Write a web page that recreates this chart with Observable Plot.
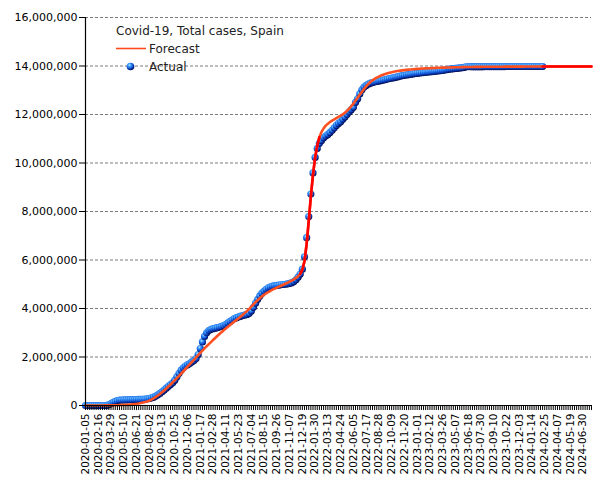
<!DOCTYPE html>
<html><head><meta charset="utf-8">
<script src="https://cdn.jsdelivr.net/npm/d3@7"></script>
<script src="https://cdn.jsdelivr.net/npm/@observablehq/plot@0.6"></script>
<style>body{margin:0;background:#fff}</style>
</head><body><div id="chart"></div>
<script>
const title = "Covid-19, Total cases, Spain";
const seriesNames = ["Forecast", "Actual"];
const startDate = "2020-01-05";      // first weekly observation
const weeksShown = 238;              // last week on the axis
const labelEvery = 6;                // label every 6th weekly tick
const yTicks = [0, 2e6, 4e6, 6e6, 8e6, 10e6, 12e6, 14e6, 16e6];

// Actual cumulative cases, weekly from 2020-01-05 (millions)
const actual = [
0,0,0,0,0,0,0,0,0.0001,0.0007,
0.0078,0.0288,0.0805,0.131,0.166,0.198,0.223,0.226,0.229,0.232,
0.236,0.239,0.241,0.244,0.246,0.249,0.251,0.254,0.261,0.273,
0.288,0.315,0.342,0.387,0.439,0.499,0.566,0.640,0.716,0.790,
0.862,0.937,1.046,1.185,1.328,1.458,1.556,1.628,1.685,1.730,
1.797,1.854,1.936,2.100,2.350,2.620,2.850,3.000,3.090,3.140,
3.170,3.190,3.210,3.235,3.260,3.299,3.347,3.407,3.468,3.524,
3.581,3.621,3.653,3.683,3.711,3.733,3.755,3.800,3.900,4.050,
4.220,4.380,4.520,4.630,4.720,4.790,4.850,4.890,4.920,4.940,
4.955,4.967,4.979,4.990,5.000,5.013,5.033,5.063,5.111,5.186,
5.292,5.421,5.620,6.133,6.922,7.790,8.720,9.590,10.230,10.600,
10.810,10.930,11.040,11.110,11.180,11.260,11.350,11.450,11.550,11.630,
11.700,11.800,11.900,12.000,12.100,12.200,12.300,12.500,12.650,12.850,
13.020,13.130,13.200,13.250,13.290,13.320,13.340,13.360,13.380,13.400,
13.420,13.440,13.460,13.480,13.500,13.520,13.540,13.560,13.580,13.600,
13.615,13.630,13.645,13.660,13.675,13.690,13.700,13.710,13.720,13.730,
13.740,13.750,13.760,13.770,13.780,13.790,13.800,13.810,13.820,13.830,
13.850,13.870,13.880,13.890,13.900,13.910,13.920,13.930,13.940,13.965,
13.970,13.971,13.972,13.972,13.973,13.973,13.974,13.974,13.975,13.975,
13.976,13.976,13.977,13.977,13.977,13.978,13.978,13.978,13.979,13.979,
13.979,13.979,13.980,13.980,13.980,13.980,13.980,13.980,13.980,13.980,
13.980,13.980,13.980,13.980,13.980,13.980
];

// Forecast curve, weekly from 2020-01-05 (millions)
const forecast = [
0.000,0.000,0.001,0.001,0.001,0.002,0.002,0.003,0.003,0.004,
0.004,0.005,0.006,0.008,0.010,0.012,0.015,0.018,0.022,0.027,
0.033,0.040,0.049,0.059,0.071,0.085,0.101,0.120,0.143,0.170,
0.200,0.240,0.290,0.350,0.410,0.475,0.545,0.620,0.700,0.780,
0.865,0.950,1.040,1.130,1.220,1.315,1.410,1.505,1.600,1.695,
1.790,1.885,1.980,2.075,2.170,2.265,2.355,2.445,2.530,2.615,
2.700,2.785,2.865,2.945,3.025,3.100,3.175,3.250,3.320,3.390,
3.460,3.530,3.600,3.670,3.745,3.820,3.900,3.985,4.075,4.170,
4.260,4.345,4.425,4.500,4.565,4.625,4.680,4.730,4.775,4.820,
4.860,4.900,4.940,4.980,5.020,5.060,5.105,5.150,5.200,5.260,
5.330,5.430,5.600,5.950,6.650,7.600,8.620,9.520,10.220,10.720,
11.060,11.280,11.430,11.540,11.620,11.690,11.750,11.800,11.850,11.900,
11.950,12.005,12.070,12.150,12.240,12.340,12.450,12.570,12.690,12.810,
12.930,13.050,13.160,13.260,13.340,13.410,13.470,13.520,13.565,13.605,
13.640,13.670,13.700,13.725,13.745,13.765,13.780,13.795,13.810,13.820,
13.830,13.840,13.850,13.858,13.866,13.873,13.880,13.886,13.892,13.897,
13.902,13.906,13.910,13.914,13.918,13.922,13.925,13.928,13.931,13.934,
13.937,13.940,13.942,13.944,13.946,13.948,13.950,13.952,13.954,13.956,
13.958,13.960,13.961,13.962,13.963,13.964,13.965,13.966,13.967,13.968,
13.969,13.970,13.970,13.971,13.971,13.972,13.972,13.973,13.973,13.974,
13.974,13.975,13.975,13.975,13.976,13.976,13.976,13.977,13.977,13.977,
13.978,13.978,13.978,13.978,13.979,13.979,13.979,13.979,13.979,13.980,
13.980,13.980,13.980,13.980,13.980,13.980,13.980,13.980,13.980,13.980,
13.980,13.980,13.980,13.980,13.980,13.980,13.980,13.980,13.980
];

// week ranges of the forecast drawn in pure red (steep rise, projection)
const redRanges = [[101, 110], [actual.length - 1, forecast.length - 1]];

const t0 = new Date(startDate + "T00:00:00Z");
const week = i => new Date(t0.getTime() + i * 7 * 864e5);

const actualData = actual.map((v, i) => ({date: week(i), value: v * 1e6}));
const forecastData = forecast.map((v, i) => ({i, date: week(i), value: v * 1e6}));
const weekTicks = d3.range(0, weeksShown + 1).map(week);
const fmtDate = d3.utcFormat("%Y-%m-%d");

const chart = Plot.plot({
  width: 605,
  height: 480,
  marginLeft: 85,
  marginRight: 14,
  marginTop: 17,
  marginBottom: 75,
  style: {fontFamily: "'DejaVu Sans', sans-serif", fontSize: "11px", color: "#000", background: "#fff", overflow: "visible"},
  x: {type: "utc", domain: [week(0), week(weeksShown)], label: null},
  y: {domain: [0, 16e6], label: null},
  marks: [
    Plot.gridY(yTicks.slice(1), {stroke: "#7a7a7a", strokeOpacity: 1, strokeDasharray: "3,2", strokeWidth: 1}),
    Plot.dot(actualData, {x: "date", y: "value", r: 3.6, fill: "url(#ball)", stroke: null}),
    Plot.line(forecastData, {x: "date", y: "value", stroke: "#ff5022", strokeWidth: 2.6}),
    ...redRanges.map(([a, b]) => Plot.line(forecastData.filter(d => d.i >= a && d.i <= b), {x: "date", y: "value", stroke: "#ff0000", strokeWidth: 2.6})),
    Plot.ruleX([week(0)], {stroke: "#000", strokeWidth: 1.2}),
    Plot.ruleY([0], {stroke: "#000", strokeWidth: 1.2}),
    Plot.axisY(yTicks, {tickFormat: d3.format(","), fontSize: 11, tickSize: 6, tickPadding: 2, label: null}),
    Plot.axisX(weekTicks, {
      tickFormat: d => (Math.round((d - t0) / (7 * 864e5)) % labelEvery === 0 ? fmtDate(d) : ""),
      tickRotate: -90, fontSize: 10.5, tickSize: 5, tickPadding: 3, label: null
    })
  ]
});

const svg = d3.select(chart);
const defs = svg.insert("defs", ":first-child");
const g = defs.append("radialGradient").attr("id", "ball").attr("cx", "38%").attr("cy", "32%").attr("r", "68%");
g.append("stop").attr("offset", "0%").attr("stop-color", "#bfe6ff");
g.append("stop").attr("offset", "30%").attr("stop-color", "#3a9bff");
g.append("stop").attr("offset", "70%").attr("stop-color", "#0b46c8");
g.append("stop").attr("offset", "100%").attr("stop-color", "#000850");

// legend inside the plot area
const lg = svg.append("g").attr("font-family", "'DejaVu Sans', sans-serif").attr("font-size", 12)
  .attr("fill", "#222").attr("text-anchor", "start");
lg.append("text").attr("x", 116).attr("y", 35).text(title);
lg.append("line").attr("x1", 116).attr("x2", 146).attr("y1", 48.5).attr("y2", 48.5).attr("stroke", "#ff4a1c").attr("stroke-width", 1.6);
lg.append("text").attr("x", 149).attr("y", 53).text(seriesNames[0]);
lg.append("circle").attr("cx", 130.5).attr("cy", 66.5).attr("r", 3.8).attr("fill", "url(#ball)");
lg.append("text").attr("x", 149).attr("y", 71).text(seriesNames[1]);

document.getElementById("chart").appendChild(chart);
</script>
</body></html>
